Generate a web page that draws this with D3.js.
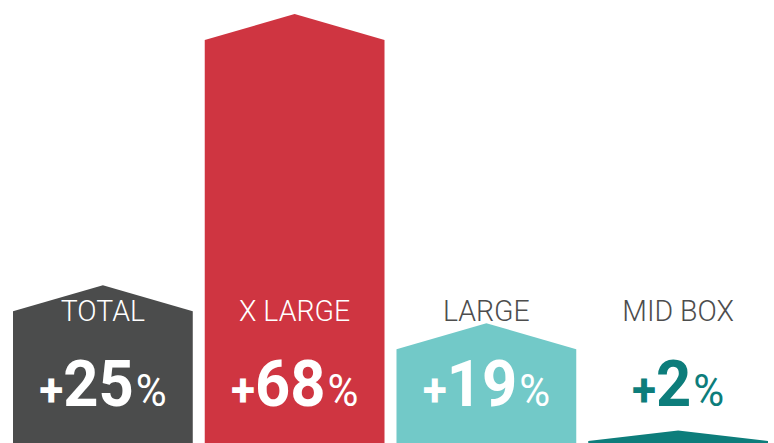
<!DOCTYPE html>
<html>
<head>
<meta charset="utf-8">
<script src="https://cdn.jsdelivr.net/npm/d3@7/dist/d3.min.js"></script>
<style>
  html, body { margin: 0; padding: 0; background: #ffffff; }
  svg { display: block; }
</style>
</head>
<body>
<script>
// Growth by box size
const categories = ["TOTAL", "X LARGE", "LARGE", "MID BOX"];
const values = [25, 68, 19, 2];
const barColors = ["#4b4c4c", "#cf3541", "#72c9c8", "#0d7d7b"];

const width = 774, height = 443;
const roof = 26;            // height of the pointed top
const labelY = 321;         // baseline of category labels
const valueY = 406;         // baseline of value labels
const labelCap = 22, valueCap = 46;

const svg = d3.select("body").append("svg")
  .attr("width", width).attr("height", height);

const x = d3.scaleBand()
  .domain(categories)
  .range([13, 768])
  .paddingInner(0.0625)
  .paddingOuter(0);

const y = d3.scaleLinear()
  .domain([0, 68])
  .range([469, 40]);

const data = categories.map((c, i) => ({ cat: c, value: values[i], color: barColors[i] }));

function geom(d) {
  const x0 = x(d.cat), x1 = x0 + x.bandwidth(), cx = (x0 + x1) / 2;
  const top = y(d.value);
  const peak = top - roof;
  const shoulder = Math.min(top, height - 2);
  return { x0, x1, cx, peak, shoulder };
}

const bars = svg.selectAll("g.bar").data(data).join("g").attr("class", "bar");

bars.append("path")
  .attr("fill", d => d.color)
  .attr("d", d => {
    const g = geom(d);
    return `M${g.x0},${g.shoulder}L${g.cx},${g.peak}L${g.x1},${g.shoulder}` +
           `L${g.x1},${height}L${g.x0},${height}Z`;
  });

// Category labels: white inside the bar, grey above it
bars.append("text")
  .attr("transform", d => `translate(${geom(d).cx},${labelY}) scale(0.95,1)`)
  .attr("text-anchor", "middle")
  .attr("font-family", "Roboto, 'DejaVu Sans', sans-serif")
  .attr("font-weight", 300)
  .attr("font-size", 30)
  .attr("fill", d => geom(d).peak < labelY - labelCap - 6 ? "#ffffff" : "#4d4d4d")
  .text(d => d.cat);

// Value labels: "+" and digits bold, percent sign lighter and smaller
const vt = bars.append("text")
  .attr("transform", d => `translate(${geom(d).cx},${valueY}) scale(0.96,1)`)
  .attr("text-anchor", "middle")
  .attr("font-family", "Roboto, 'DejaVu Sans', sans-serif")
  .attr("fill", d => geom(d).peak < valueY - valueCap - 6 ? "#ffffff" : d.color);

vt.append("tspan").attr("font-weight", 700).attr("font-size", 46).text("+");
vt.append("tspan").attr("font-weight", 700).attr("font-size", 64).text(d => d.value);
vt.append("tspan").attr("font-weight", 400).attr("font-size", 44).attr("dx", 2).text("%");
</script>
</body>
</html>
